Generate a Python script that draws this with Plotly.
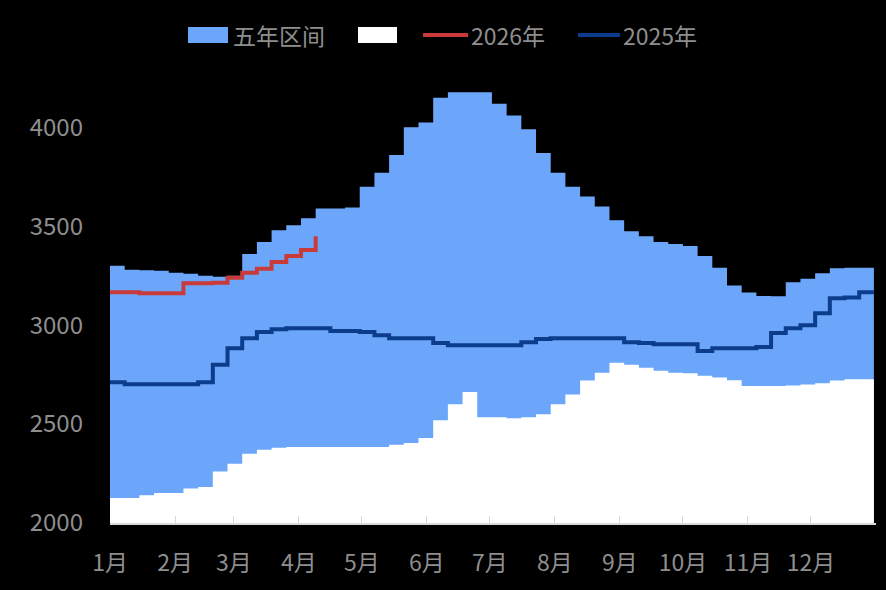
import pandas as pd
import plotly.graph_objects as go

# weekly observation dates (day-of-year aligned, 2025 used as a neutral calendar)
week_dates = pd.date_range("2025-01-01", periods=53, freq="7D")

five_year_max = [3300, 3280, 3278, 3275, 3265, 3260, 3250, 3245, 3250, 3360,
                 3420, 3480, 3505, 3540, 3590, 3590, 3595, 3700, 3770, 3860,
                 4000, 4025, 4150, 4178, 4178, 4178, 4120, 4060, 3990, 3870,
                 3770, 3700, 3650, 3600, 3530, 3475, 3450, 3420, 3410, 3400,
                 3350, 3290, 3200, 3165, 3148, 3146, 3217, 3235, 3262, 3288,
                 3290, 3290, 3290]

five_year_min = [2126, 2126, 2140, 2152, 2152, 2175, 2182, 2260, 2300, 2350,
                 2370, 2380, 2384, 2384, 2384, 2384, 2384, 2384, 2384, 2395,
                 2405, 2430, 2520, 2600, 2662, 2535, 2535, 2530, 2535, 2550,
                 2600, 2650, 2720, 2760, 2810, 2800, 2785, 2770, 2760, 2757,
                 2745, 2735, 2722, 2692, 2692, 2692, 2695, 2700, 2707, 2720,
                 2727, 2727, 2727]

y2025 = [2712, 2702, 2702, 2702, 2702, 2702, 2712, 2800, 2884, 2934,
         2965, 2980, 2985, 2985, 2985, 2970, 2970, 2965, 2949, 2934,
         2934, 2934, 2910, 2899, 2899, 2899, 2899, 2899, 2914, 2930,
         2934, 2934, 2934, 2934, 2934, 2914, 2910, 2904, 2904, 2904,
         2869, 2884, 2884, 2884, 2890, 2960, 2985, 3000, 3060, 3136,
         3140, 3166, 3166]

y2026 = [3166, 3166, 3161, 3161, 3161, 3212, 3212, 3215, 3240, 3265,
         3285, 3320, 3350, 3380, 3450]

month_ticks = pd.date_range("2025-01-01", periods=12, freq="MS")
month_labels = ["1月", "2月", "3月", "4月", "5月", "6月",
                "7月", "8月", "9月", "10月", "11月", "12月"]

legend_names = ["五年区间", "", "2026年", "2025年"]

BLUE_AREA = "#6ba6fa"
RED = "#c93a3a"
NAVY = "#0c3d8c"
GRAY = "#8e8e8e"
FONT = "Noto Sans CJK SC"

fig = go.Figure()
fig.add_trace(go.Scatter(x=week_dates, y=five_year_max, mode="none", fill="tozeroy",
                         fillcolor=BLUE_AREA, line_shape="hv", name=legend_names[0],
                         showlegend=False, hoverinfo="skip"))
fig.add_trace(go.Scatter(x=week_dates, y=five_year_min, mode="none", fill="tozeroy",
                         fillcolor="#ffffff", line_shape="hv", name=" ",
                         showlegend=False, hoverinfo="skip"))
fig.add_trace(go.Scatter(x=week_dates, y=y2025, mode="lines", line=dict(color=NAVY, width=4, shape="hv"),
                         name=legend_names[3], showlegend=False))
fig.add_trace(go.Scatter(x=week_dates[:len(y2026)], y=y2026, mode="lines",
                         line=dict(color=RED, width=4, shape="hv"),
                         name=legend_names[2], showlegend=False))

# custom legend (plot area spans 766 x 453 px)
def px_x(p):
    return (p - 110) / 766.0

def px_y(p):
    return (523 - p) / 453.0

shapes = [
    dict(type="rect", xref="paper", yref="paper", x0=px_x(188), x1=px_x(228),
         y0=px_y(43), y1=px_y(27), fillcolor=BLUE_AREA, line_width=0),
    dict(type="rect", xref="paper", yref="paper", x0=px_x(358), x1=px_x(397),
         y0=px_y(43), y1=px_y(27), fillcolor="#ffffff", line_width=0),
    dict(type="line", xref="paper", yref="paper", x0=px_x(423), x1=px_x(468),
         y0=px_y(35), y1=px_y(35), line=dict(color=RED, width=4)),
    dict(type="line", xref="paper", yref="paper", x0=px_x(578), x1=px_x(620),
         y0=px_y(35), y1=px_y(35), line=dict(color=NAVY, width=4)),
]
annotations = [
    dict(text=legend_names[0], x=px_x(231), y=px_y(35)),
    dict(text=legend_names[2], x=px_x(469), y=px_y(35)),
    dict(text=legend_names[3], x=px_x(621), y=px_y(35)),
]
for a in annotations:
    a.update(xref="paper", yref="paper", xanchor="left", yanchor="middle",
             showarrow=False, font=dict(family=FONT, size=23, color=GRAY))

fig.update_layout(
    width=886, height=590,
    margin=dict(l=110, r=10, t=70, b=67),
    paper_bgcolor="#000000", plot_bgcolor="#000000",
    font=dict(family=FONT, color=GRAY, size=23),
    showlegend=False,
    shapes=shapes, annotations=annotations,
    xaxis=dict(range=["2025-01-01", "2026-01-01"], tickvals=month_ticks, ticktext=month_labels,
               showgrid=False, zeroline=False, showline=True, linecolor="#d9d9d9", linewidth=2,
               ticks="inside", ticklen=7, tickcolor="#d9d9d9", tickwidth=1,
               tickfont=dict(family=FONT, size=23, color=GRAY), ticklabelstandoff=18),
    yaxis=dict(range=[2000, 4290], tickvals=[2000, 2500, 3000, 3500, 4000],
               showgrid=False, zeroline=False, showline=False, ticks="",
               tickfont=dict(family=FONT, size=24, color=GRAY), ticklabelstandoff=26),
)

fig.write_html("out.html", config={"displayModeBar": False},
               post_script="document.body.style.margin='0';document.body.style.background='#000';")
